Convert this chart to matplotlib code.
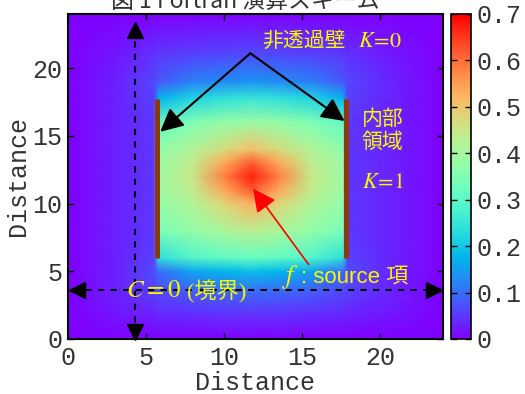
import matplotlib
matplotlib.use("Agg")
import matplotlib.pyplot as plt
import numpy as np

plt.rcParams['mathtext.fontset'] = 'stix'

# ---- data ----
x_nodes = [0, 3, 5.5, 5.8, 8, 10, 11.75, 13.5, 15.5, 17.6, 17.9, 21, 24]
y_nodes = [0, 2, 3.5, 5, 6, 8, 10, 11, 12, 13, 14, 16, 17.8, 19, 21, 24]
c_y00 = [0, 0, 0, 0, 0, 0, 0, 0, 0, 0, 0, 0, 0]
c_y02 = [0, .02, .035, .04, .045, .05, .05, .05, .045, .04, .035, .02, 0]
c_y035 = [0, .03, .06, .065, .085, .095, .10, .095, .085, .065, .06, .03, 0]
c_y05 = [0, .03, .07, .10, .16, .18, .19, .18, .16, .10, .07, .03, 0]
c_y06 = [0, .03, .06, .24, .29, .31, .32, .31, .29, .24, .06, .03, 0]
c_y08 = [0, .03, .05, .34, .38, .41, .43, .41, .38, .34, .05, .03, 0]
c_y10 = [0, .03, .05, .38, .42, .48, .53, .48, .42, .38, .05, .03, 0]
c_y11 = [0, .03, .05, .39, .44, .54, .62, .54, .44, .39, .05, .03, 0]
c_y12 = [0, .03, .05, .39, .45, .58, .67, .58, .45, .39, .05, .03, 0]
c_y13 = [0, .03, .05, .39, .44, .54, .62, .54, .44, .39, .05, .03, 0]
c_y14 = [0, .03, .05, .37, .42, .47, .51, .47, .42, .37, .05, .03, 0]
c_y16 = [0, .03, .05, .31, .35, .38, .39, .38, .35, .31, .05, .03, 0]
c_y178 = [0, .03, .06, .17, .22, .24, .25, .24, .22, .17, .06, .03, 0]
c_y19 = [0, .03, .065, .08, .12, .13, .14, .13, .12, .08, .065, .03, 0]
c_y21 = [0, .02, .045, .05, .06, .065, .07, .065, .06, .05, .045, .02, 0]
c_y24 = [0, 0, 0, 0, 0, 0, 0, 0, 0, 0, 0, 0, 0]
c_rows = [c_y00, c_y02, c_y035, c_y05, c_y06, c_y08, c_y10, c_y11, c_y12,
          c_y13, c_y14, c_y16, c_y178, c_y19, c_y21, c_y24]

wall_x = [5.7, 17.8]
wall_y = [6.0, 17.7]
x_ticks = [0, 5, 10, 15, 20]
y_ticks = [0, 5, 10, 15, 20]
cb_ticks = [0, 0.1, 0.2, 0.3, 0.4, 0.5, 0.6, 0.7]
cb_labels = ['0', '0.1', '0.2', '0.3', '0.4', '0.5', '0.6', '0.7']

mono = 'Liberation Mono'
cjk = ['Noto Sans CJK JP', 'DejaVu Sans']
yellow = '#f8f800'
fs_tick = 18
tcol = '#333333'

fig = plt.figure(figsize=(5.25, 3.94), dpi=100)
ax = fig.add_axes([0.1295, 0.1396, 0.7143, 0.8249])
cax = fig.add_axes([0.859, 0.1396, 0.038, 0.8249])

X, Y = np.meshgrid(x_nodes, y_nodes)
C = np.array(c_rows)
pm = ax.pcolormesh(X, Y, C, shading='gouraud', cmap='rainbow', vmin=0, vmax=0.7)
ax.set_xlim(0, 24)
ax.set_ylim(0, 24)

# walls
for wx in wall_x:
    ax.plot([wx, wx], wall_y, color='#8c3a0c', lw=3.6, solid_capstyle='butt', zorder=3)

# dashed boundary lines with arrowheads
hy = 3.63
vx = 4.3
ax.plot([0.3, 23.7], [hy, hy], ls=(0, (3, 3)), color='k', lw=1.5, zorder=4)
ax.plot([vx, vx], [0.3, 22.8], ls=(0, (3, 3)), color='k', lw=1.5, zorder=4)
ax.plot([0.6], [hy], marker='<', ms=12, color='k', clip_on=False, zorder=5)
ax.plot([23.4], [hy], marker='>', ms=12, color='k', clip_on=False, zorder=5)
ax.plot([vx], [22.8], marker='^', ms=11, color='k', clip_on=False, zorder=5)
ax.plot([vx], [0.5], marker='v', ms=11, color='k', clip_on=False, zorder=5)

# black arrows to walls
ap = dict(arrowstyle='-|>,head_length=0.7,head_width=0.35', color='k', lw=1.5,
          mutation_scale=20, shrinkA=0, shrinkB=0)
ax.annotate('', xy=(5.9, 15.3), xytext=(11.67, 21.1), arrowprops=ap, zorder=6)
ax.annotate('', xy=(17.7, 16.1), xytext=(11.67, 21.1), arrowprops=ap, zorder=6)
# red arrow to source
apr = dict(arrowstyle='-|>,head_length=0.7,head_width=0.35', color='red', lw=1.2,
           mutation_scale=20, shrinkA=0, shrinkB=0)
ax.annotate('', xy=(11.85, 11.1), xytext=(15.4, 5.5), arrowprops=apr, zorder=6)

# texts
ax.text(12.4, 22.0, '非透過壁', family=cjk, fontsize=15, color=yellow, va='center', ha='left', zorder=7)
ax.text(18.55, 22.0, '$K\\!=\\!0$', fontsize=16, color=yellow, va='center', ha='left', zorder=7)
ax.text(18.8, 15.4, '内部\n領域', family=cjk, fontsize=15, color=yellow, va='center', ha='left',
        linespacing=1.1, zorder=7)
ax.text(18.8, 11.6, '$K\\!=\\!1$', fontsize=16, color=yellow, va='center', ha='left', zorder=7)
ax.text(13.7, 4.6, '$f$', fontsize=19, color=yellow, va='center', ha='left', zorder=7)
ax.text(14.9, 4.6, ': source 項', family=['Liberation Sans', 'Noto Sans CJK JP'], fontsize=16,
        color=yellow, va='center', ha='left', zorder=7)
ax.text(3.7, 3.63, '$C = 0$', fontsize=18, color=yellow, va='center', ha='left', zorder=7)
ax.text(7.6, 3.5, '(境界)', family=['Liberation Serif', 'Noto Sans CJK JP'], fontsize=16,
        color=yellow, va='center', ha='left', zorder=7)

# axes styling
ax.set_xticks(x_ticks)
ax.set_yticks(y_ticks)
ax.tick_params(direction='in', top=True, right=True, length=4, width=1, labelsize=fs_tick,
               colors='k', labelcolor=tcol)
ax.tick_params(axis='x', pad=5)
ax.tick_params(axis='y', pad=4)
for lab in ax.get_xticklabels() + ax.get_yticklabels():
    lab.set_family(mono)
for s in ax.spines.values():
    s.set_linewidth(1.5)
ax.set_xlabel('Distance', family=mono, fontsize=fs_tick, labelpad=1, color=tcol)
ax.set_ylabel('Distance', family=mono, fontsize=fs_tick, labelpad=2, color=tcol)

cb = fig.colorbar(pm, cax=cax, ticks=cb_ticks)
cb.ax.set_yticklabels(cb_labels)
cb.ax.tick_params(direction='in', left=True, right=True, length=4, width=1, labelsize=fs_tick,
                  labelcolor=tcol, pad=4)
for lab in cb.ax.get_yticklabels():
    lab.set_family(mono)
cb.outline.set_linewidth(1.2)

fig.text(0.467, 0.981, '図 1 Fortran 演算スキーム', family=cjk, fontsize=16.5, ha='center',
         va='baseline', color=tcol)

fig.savefig('out.png', dpi=100)
